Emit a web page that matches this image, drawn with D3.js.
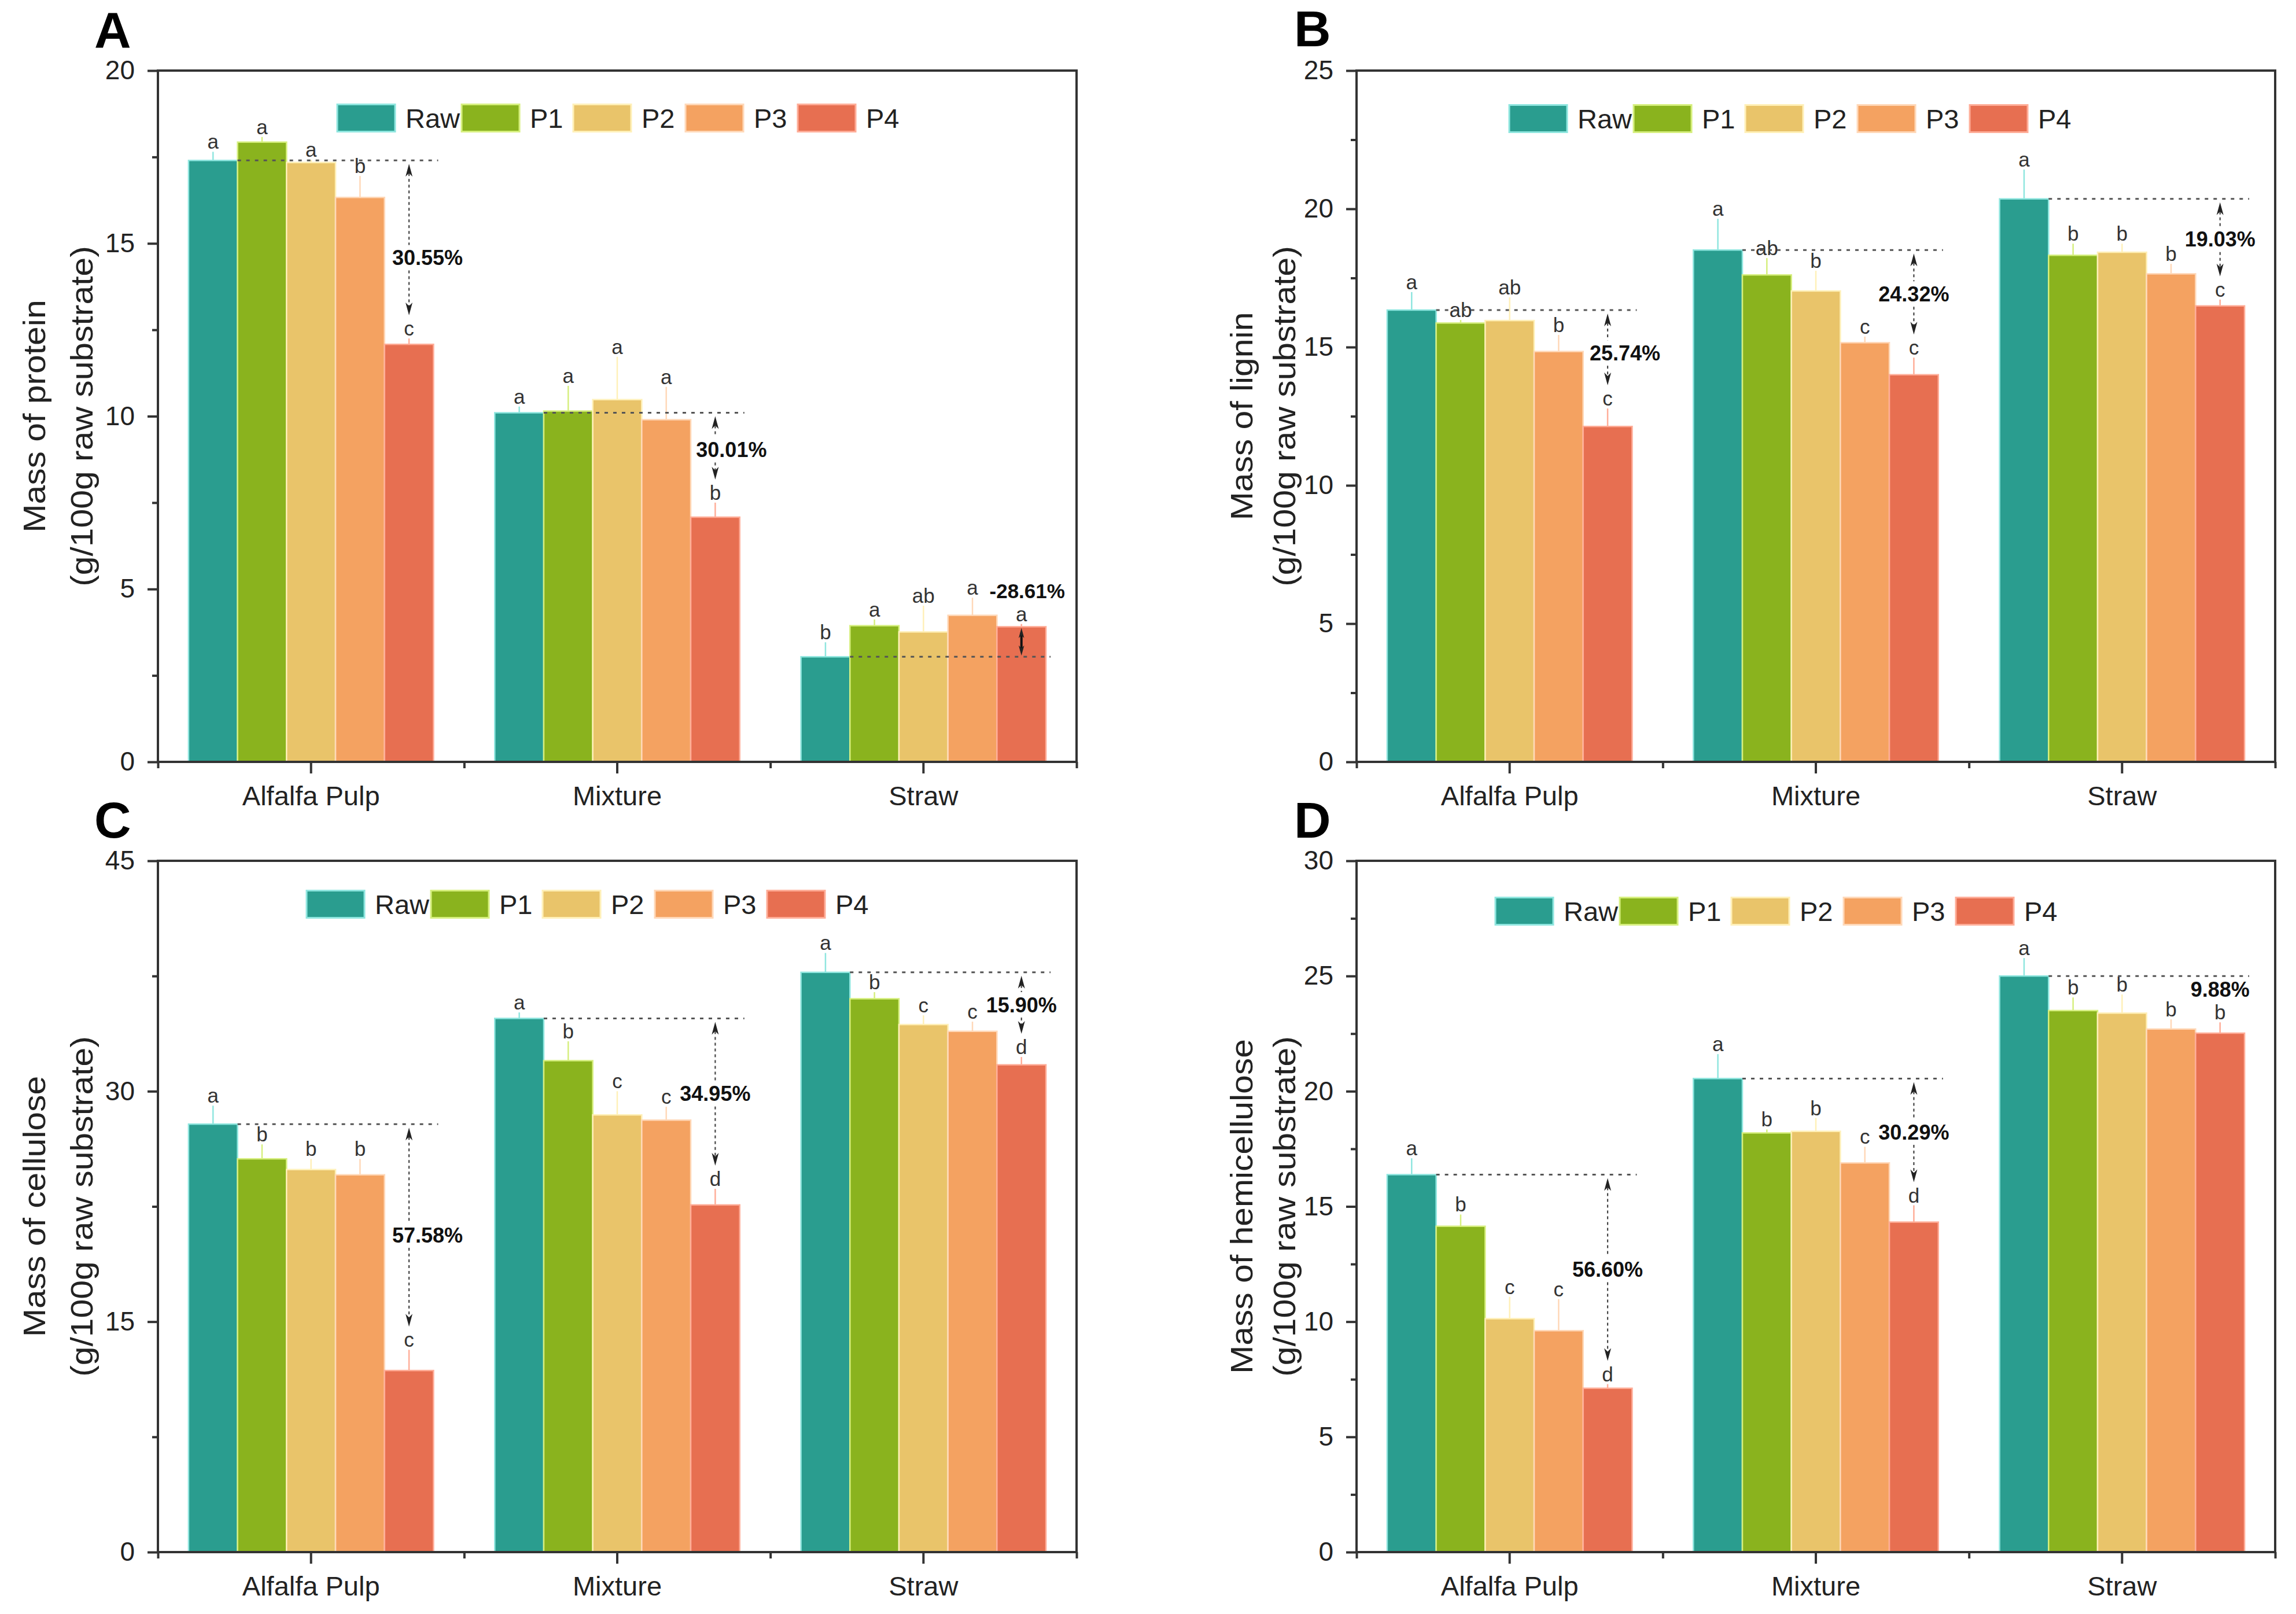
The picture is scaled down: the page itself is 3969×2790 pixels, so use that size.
<!DOCTYPE html>
<html>
<head>
<meta charset="utf-8">
<script src="https://cdn.jsdelivr.net/npm/d3@7"></script>
<style>
  body { margin: 0; background: #fff; }
  svg text { font-family: "Liberation Sans", Arial, Helvetica, sans-serif; }
</style>
</head>
<body>
<svg id="chart"></svg>
<script>
// ---------------- DATA ----------------
const categories = ["Alfalfa Pulp", "Mixture", "Straw"];
const seriesNames = ["Raw", "P1", "P2", "P3", "P4"];

// rows = series (Raw, P1..P4), columns = categories
const proteinMean = [
  [17.40, 10.10, 3.04],
  [17.93, 10.15, 3.94],
  [17.34, 10.48, 3.76],
  [16.33, 9.90, 4.24],
  [12.08, 7.08, 3.91]
];
const proteinErr = [
  [0.25, 0.18, 0.42],
  [0.15, 0.73, 0.18],
  [0.08, 1.24, 0.76],
  [0.62, 0.95, 0.51],
  [0.17, 0.42, 0.08]
];
const proteinLetters = [
  ["a", "a", "b"], ["a", "a", "a"], ["a", "a", "ab"], ["b", "a", "a"], ["c", "b", "a"]
];
const proteinPct = ["30.55%", "30.01%", "-28.61%"];

const ligninMean = [
  [16.34, 18.51, 20.36],
  [15.87, 17.61, 18.32],
  [15.96, 17.03, 18.43],
  [14.84, 15.16, 17.65],
  [12.13, 14.00, 16.49]
];
const ligninErr = [
  [0.65, 1.13, 1.06],
  [0.11, 0.61, 0.42],
  [0.84, 0.73, 0.31],
  [0.60, 0.22, 0.36],
  [0.65, 0.62, 0.23]
];
const ligninLetters = [
  ["a", "a", "a"], ["ab", "ab", "b"], ["ab", "b", "b"], ["b", "c", "b"], ["c", "c", "c"]
];
const ligninPct = ["25.74%", "24.32%", "19.03%"];

const celluloseMean = [
  [27.86, 34.74, 37.74],
  [25.60, 31.99, 36.02],
  [24.90, 28.46, 34.34],
  [24.56, 28.12, 33.90],
  [11.82, 22.60, 31.72]
];
const celluloseErr = [
  [1.20, 0.39, 1.26],
  [0.94, 1.26, 0.43],
  [0.69, 1.54, 0.60],
  [1.03, 0.87, 0.63],
  [1.35, 1.05, 0.51]
];
const celluloseLetters = [
  ["a", "a", "a"], ["b", "b", "b"], ["b", "c", "c"], ["b", "c", "c"], ["c", "d", "d"]
];
const cellulosePct = ["57.58%", "34.95%", "15.90%"];

const hemiMean = [
  [16.38, 20.55, 25.00],
  [14.14, 18.19, 23.50],
  [10.13, 18.26, 23.39],
  [9.61, 16.89, 22.70],
  [7.11, 14.32, 22.52]
];
const hemiErr = [
  [0.71, 1.06, 0.78],
  [0.51, 0.15, 0.57],
  [0.95, 0.58, 0.81],
  [1.37, 0.70, 0.42],
  [0.18, 0.73, 0.47]
];
const hemiLetters = [
  ["a", "a", "a"], ["b", "b", "b"], ["c", "b", "b"], ["c", "c", "b"], ["d", "d", "b"]
];
const hemiPct = ["56.60%", "30.29%", "9.88%"];

const yAxisUnit = "(g/100g raw substrate)";

// ---------------- STYLE / LAYOUT ----------------
const fillColors = ["#2a9d8f", "#8ab31e", "#e9c46a", "#f4a261", "#e76f51"];
const lightColors = ["#8fe6df", "#d6ef7e", "#fff0b8", "#ffd8b8", "#ffad98"];

const W = 3969, H = 2790;
const PW = 1588, PH = 1195;

const panels = [
  { key: "A", title: "Mass of protein", mean: proteinMean, err: proteinErr, letters: proteinLetters, pct: proteinPct,
    yMax: 20, major: 5, minor: 2.5, left: 273, top: 122, legX: 310, legY: 82,
    titleX: [-195, -113], letterPos: [163, 82], pctDx: [32, 28, 10], pctFrac: [0.62, 0.53, 0.5] },
  { key: "B", title: "Mass of lignin", mean: ligninMean, err: ligninErr, letters: ligninLetters, pct: ligninPct,
    yMax: 25, major: 5, minor: 2.5, left: 2345, top: 122, legX: 264, legY: 83,
    titleX: [-180, -106], letterPos: [2237, 80], pctDx: [30, 0, 0], pctFrac: [0.55, 0.5, 0.5] },
  { key: "C", title: "Mass of cellulose", mean: celluloseMean, err: celluloseErr, letters: celluloseLetters, pct: cellulosePct,
    yMax: 45, major: 15, minor: 7.5, left: 273, top: 1488, legX: 257, legY: 75,
    titleX: [-195, -113], letterPos: [163, 1448], pctDx: [32, 0, 0], pctFrac: [0.54, 0.5, 0.5] },
  { key: "D", title: "Mass of hemicellulose", mean: hemiMean, err: hemiErr, letters: hemiLetters, pct: hemiPct,
    yMax: 30, major: 5, minor: 2.5, left: 2345, top: 1488, legX: 240, legY: 87,
    titleX: [-180, -106], letterPos: [2237, 1448], pctDx: [0, 0, 0], pctFrac: [0.5, 0.5, 0.5] }
];

const legendOffsets = [0, 215, 408, 602, 796];

const svg = d3.select("#chart").attr("width", W).attr("height", H)
  .attr("viewBox", `0 0 ${W} ${H}`);
svg.append("rect").attr("width", W).attr("height", H).attr("fill", "#fff");

function arrowHead(g, x, y, dir, s) {
  // dir = -1: pointing up (tip at y), +1: pointing down
  const h = 22 * s, w = 6 * s, n = 16 * s;
  g.append("path")
    .attr("d", `M${x},${y} L${x - w},${y - dir * h} L${x},${y - dir * n} L${x + w},${y - dir * h} Z`)
    .attr("fill", "#222");
}

function drawPanel(p) {
  const L = p.left, R = p.left + PW, T = p.top, B = p.top + PH;
  const g = svg.append("g");

  const y = d3.scaleLinear().domain([0, p.yMax]).range([B, T]);
  const x0 = d3.scaleBand().domain(categories).range([L, R]).padding(0);
  const x1 = d3.scaleBand().domain(seriesNames).range([0, x0.bandwidth()])
    .paddingInner(0).paddingOuter(0.625);
  const bw = x1.bandwidth();

  const data = [];
  seriesNames.forEach((s, si) => {
    categories.forEach((c, ci) => {
      data.push({ s, si, c, ci, v: p.mean[si][ci], e: p.err[si][ci], lab: p.letters[si][ci] });
    });
  });

  // bars
  g.append("g").selectAll("rect").data(data).join("rect")
    .attr("x", d => x0(d.c) + x1(d.s))
    .attr("y", d => y(d.v))
    .attr("width", bw)
    .attr("height", d => y(0) - y(d.v))
    .attr("fill", d => fillColors[d.si])
    .attr("stroke", d => lightColors[d.si])
    .attr("stroke-width", 2.5);

  // error bars
  g.append("g").selectAll("line").data(data).join("line")
    .attr("x1", d => x0(d.c) + x1(d.s) + bw / 2)
    .attr("x2", d => x0(d.c) + x1(d.s) + bw / 2)
    .attr("y1", d => y(d.v))
    .attr("y2", d => y(d.v + d.e))
    .attr("stroke", d => lightColors[d.si])
    .attr("stroke-width", 2.5);

  // significance letters
  g.append("g").selectAll("text").data(data).join("text")
    .attr("x", d => x0(d.c) + x1(d.s) + bw / 2)
    .attr("y", d => y(d.v + d.e) - 5)
    .attr("text-anchor", "middle")
    .attr("font-size", 35)
    .attr("fill", "#333")
    .text(d => d.lab);

  // reference lines, arrows, percentages
  categories.forEach((c, ci) => {
    const raw = p.mean[0][ci];
    const p4 = p.mean[4][ci];
    const p4e = p.err[4][ci];
    const yRaw = y(raw);
    const xStart = x0(c) + x1("Raw") + bw;
    const xEnd = x0(c) + x1("P4") + bw + 8;
    const ax = x0(c) + x1("P4") + bw / 2;
    g.append("line")
      .attr("x1", xStart).attr("x2", xEnd).attr("y1", yRaw).attr("y2", yRaw)
      .attr("stroke", "#555").attr("stroke-width", 3).attr("stroke-dasharray", "6,9");

    const ag = g.append("g");
    if (p4 > raw) {
      // increase: short solid double arrow between raw level and P4 bar top
      const top = y(p4) + 2, bot = yRaw - 2;
      ag.append("line").attr("x1", ax).attr("x2", ax).attr("y1", top + 8).attr("y2", bot - 8)
        .attr("stroke", "#111").attr("stroke-width", 4);
      arrowHead(ag, ax, top, -1, 0.8);
      arrowHead(ag, ax, bot, 1, 0.8);
      g.append("text")
        .attr("x", ax + p.pctDx[ci])
        .attr("y", y(p4 + p4e) - 5 - 52)
        .attr("dy", "0.35em")
        .attr("text-anchor", "middle")
        .attr("font-size", 35).attr("font-weight", "bold").attr("fill", "#111")
        .text(p.pct[ci]);
    } else {
      const top = yRaw + 6;
      const bot = y(p4 + p4e) - 40;
      const ty = top + p.pctFrac[ci] * (bot - top);
      if (bot - top > 60) {
        const segs = [[top + 16, ty - 22], [ty + 22, bot - 16]];
        segs.forEach(sg => {
          if (sg[1] > sg[0]) {
            ag.append("line").attr("x1", ax).attr("x2", ax).attr("y1", sg[0]).attr("y2", sg[1])
              .attr("stroke", "#444").attr("stroke-width", 2.2).attr("stroke-dasharray", "5,5");
          }
        });
        arrowHead(ag, ax, top, -1, 1);
        arrowHead(ag, ax, bot, 1, 1);
      }
      g.append("text")
        .attr("x", ax + p.pctDx[ci])
        .attr("y", ty)
        .attr("dy", "0.35em")
        .attr("text-anchor", "middle")
        .attr("font-size", 36).attr("font-weight", "bold").attr("fill", "#111")
        .text(p.pct[ci]);
    }
  });

  // frame
  g.append("rect").attr("x", L).attr("y", T).attr("width", PW).attr("height", PH)
    .attr("fill", "none").attr("stroke", "#333").attr("stroke-width", 4);

  // y axis
  const majors = d3.range(0, p.yMax + 1e-9, p.major);
  const minors = d3.range(p.minor, p.yMax, p.major);
  const yAx = g.append("g").attr("transform", `translate(${L},0)`)
    .call(d3.axisLeft(y).tickValues(majors).tickSize(18).tickPadding(22).tickFormat(d3.format("d")));
  yAx.select(".domain").remove();
  yAx.selectAll(".tick line").attr("stroke", "#333").attr("stroke-width", 4);
  yAx.selectAll(".tick text").attr("font-size", 46).attr("fill", "#222")
    .attr("font-family", '"Liberation Sans", Arial, sans-serif');
  const yMin = g.append("g").attr("transform", `translate(${L},0)`)
    .call(d3.axisLeft(y).tickValues(minors).tickSize(10).tickFormat(""));
  yMin.select(".domain").remove();
  yMin.selectAll(".tick line").attr("stroke", "#333").attr("stroke-width", 4);

  // x axis
  const xAx = g.append("g").attr("transform", `translate(0,${B})`)
    .call(d3.axisBottom(x0).tickSize(20).tickPadding(22));
  xAx.select(".domain").remove();
  xAx.selectAll(".tick line").attr("stroke", "#333").attr("stroke-width", 4);
  xAx.selectAll(".tick text").attr("font-size", 47).attr("fill", "#222")
    .attr("font-family", '"Liberation Sans", Arial, sans-serif');
  const xb = d3.scaleLinear().domain([0, categories.length]).range([L, R]);
  const xMin = g.append("g").attr("transform", `translate(0,${B})`)
    .call(d3.axisBottom(xb).tickValues(d3.range(0, categories.length + 1)).tickSize(11).tickFormat(""));
  xMin.select(".domain").remove();
  xMin.selectAll(".tick line").attr("stroke", "#333").attr("stroke-width", 4);

  // legend
  const lg = g.append("g").attr("transform", `translate(${L + p.legX},${T + p.legY})`);
  seriesNames.forEach((s, si) => {
    const ox = legendOffsets[si];
    lg.append("rect").attr("x", ox).attr("y", -23.5).attr("width", 100).attr("height", 47)
      .attr("fill", fillColors[si]).attr("stroke", lightColors[si]).attr("stroke-width", 3);
    lg.append("text").attr("x", ox + 118).attr("y", 0).attr("dy", "0.36em")
      .attr("font-size", 47).attr("fill", "#222").text(s);
  });

  // y title (two lines)
  const cy = (T + B) / 2;
  [p.title, yAxisUnit].forEach((t, i) => {
    const tx = L + p.titleX[i];
    const el = g.append("text")
      .attr("transform", `translate(${tx},${cy}) rotate(-90)`)
      .attr("text-anchor", "middle")
      .attr("font-size", 53).attr("fill", "#222")
      .text(t);
    const len = el.node().getComputedTextLength();
    el.attr("textLength", len * 1.11).attr("lengthAdjust", "spacingAndGlyphs");
  });

  // panel letter
  g.append("text").attr("x", p.letterPos[0]).attr("y", p.letterPos[1])
    .attr("font-size", 88).attr("font-weight", "bold").attr("fill", "#000")
    .text(p.key);
}

panels.forEach(drawPanel);
</script>
</body>
</html>
